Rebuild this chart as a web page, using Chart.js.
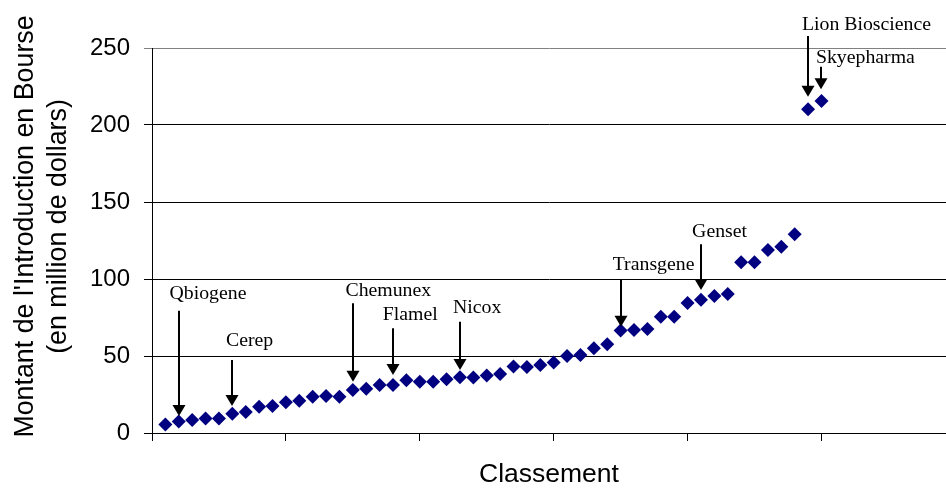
<!DOCTYPE html>
<html><head><meta charset="utf-8">
<script src="https://cdn.jsdelivr.net/npm/chart.js@4.4.1/dist/chart.umd.min.js"></script>
<style>html,body{margin:0;padding:0;background:#fff;overflow:hidden}</style>
</head><body>
<canvas id="c" width="946" height="488"></canvas>
<script>
// Rank of each company (x) and IPO amount in million dollars (y)
const ranks = [1,2,3,4,5,6,7,8,9,10,11,12,13,14,15,16,17,18,19,20,21,22,23,24,25,26,27,28,29,30,31,32,33,34,35,36,37,38,39,40,41,42,43,44,45,46,47,48,49,50];
const amounts = [5.5,7.5,8.4,9.4,9.4,12.5,13.6,17.1,17.5,20,21,23.5,24,23.5,27.9,28.8,31.2,31.2,34.2,33.3,33.3,34.9,36.2,36,37.3,38.3,43.2,42.9,44.2,45.8,50,50.6,55,57.6,66.6,66.9,67.5,75.5,75.5,84.4,86.6,89,90.3,110.8,110.8,118.8,121,129,210.2,215.6];
const yTicks = [0,50,100,150,200,250];

// Annotated companies
const annotLabels = ['Qbiogene','Cerep','Chemunex','Flamel','Nicox','Transgene','Genset','Lion Bioscience','Skyepharma'];
const annotRanks  = [2,6,15,18,23,35,41,49,50];
const arrowTops   = [79.4,47.4,84.2,68,72.3,100,122.5,257.8,237.9];
const arrowTips   = [11,17.5,33.3,37.7,40.9,69,92.9,218.4,223.2];
const labelRanks  = [4.18,7.29,17.65,19.29,24.29,37.46,42.39,53.36,53.28];
const labelValues = [87,56.5,89,73.4,77.9,105.8,127.3,261.7,240.5];

const yTitleLines = ["Montant de l'Introduction en Bourse", "(en million de dollars)"];
const xTitle = 'Classement';

const SANS = '"Liberation Sans", Arial, sans-serif';
const SERIF = '"Liberation Serif", "Times New Roman", serif';

const annotPlugin = {
  id: 'annot',
  afterDatasetsDraw(chart) {
    const {ctx, scales: {x, y}, chartArea} = chart;
    ctx.save();
    ctx.strokeStyle = '#000';
    ctx.fillStyle = '#000';
    ctx.lineWidth = 2;
    annotLabels.forEach((lab, i) => {
      const ax = Math.round(x.getPixelForValue(annotRanks[i]));
      const y0 = y.getPixelForValue(arrowTops[i]);
      const y1 = y.getPixelForValue(arrowTips[i]);
      ctx.beginPath();
      ctx.moveTo(ax, y0);
      ctx.lineTo(ax, y1 - 10);
      ctx.stroke();
      ctx.beginPath();
      ctx.moveTo(ax - 6.5, y1 - 11);
      ctx.lineTo(ax + 6.5, y1 - 11);
      ctx.lineTo(ax, y1);
      ctx.closePath();
      ctx.fill();
      ctx.font = '19.8px ' + SERIF;
      ctx.textAlign = 'center';
      ctx.textBaseline = 'alphabetic';
      ctx.fillText(lab, x.getPixelForValue(labelRanks[i]), y.getPixelForValue(labelValues[i]));
    });
    // y axis title (two lines, rotated)
    const cy = (chartArea.top + chartArea.bottom) / 2 - 14;
    ctx.font = '26.8px ' + SANS;
    ctx.textAlign = 'center';
    ctx.textBaseline = 'alphabetic';
    const baselines = [32.5, 66];
    yTitleLines.forEach((t, i) => {
      ctx.save();
      ctx.translate(baselines[i], cy);
      ctx.rotate(-Math.PI / 2);
      ctx.fillText(t, 0, 0);
      ctx.restore();
    });
    ctx.restore();
  }
};

new Chart(document.getElementById('c'), {
  type: 'scatter',
  data: {
    datasets: [{
      data: ranks.map((r, i) => ({x: r, y: amounts[i]})),
      pointStyle: 'rectRot',
      pointRadius: 7,
      pointHoverRadius: 7,
      backgroundColor: '#000080',
      borderColor: '#000080',
      borderWidth: 0
    }]
  },
  options: {
    responsive: false,
    animation: false,
    devicePixelRatio: 1,
    layout: {autoPadding: false, padding: {top: 48, left: 0, right: 0, bottom: 0}},
    plugins: {legend: {display: false}, tooltip: {enabled: false}},
    scales: {
      x: {
        type: 'linear',
        min: 0,
        max: 59.3,
        ticks: {stepSize: 10, display: false, includeBounds: false},
        grid: {drawOnChartArea: false, drawTicks: true, tickLength: 8, color: '#000', lineWidth: 1},
        border: {color: '#000', width: 1},
        title: {display: true, text: xTitle, color: '#000', padding: 0, font: {family: SANS, size: 26.5, lineHeight: 1}},
        afterFit(s) { s.height = 55; }
      },
      y: {
        min: 0,
        max: 250,
        afterBuildTicks(s) { s.ticks = yTicks.map(v => ({value: v})); },
        ticks: {color: '#000', padding: 14, font: {family: SANS, size: 24}},
        grid: {color: c => (c.tick && c.tick.value === 250) ? '#808080' : '#000', lineWidth: 1, tickLength: 8},
        border: {color: '#000', width: 1},
        afterFit(s) { s.width = 152; }
      }
    }
  },
  plugins: [annotPlugin]
});
</script>
</body></html>
